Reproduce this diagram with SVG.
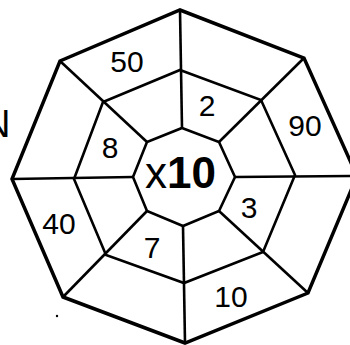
<svg xmlns="http://www.w3.org/2000/svg" width="350" height="345" viewBox="0 0 350 345">
<style>
.o{fill:none;stroke:#000;stroke-linejoin:miter}
.outer{stroke-width:3.5}
.in{stroke-width:2.6}
.n{font-family:"Liberation Sans",Arial,sans-serif;font-size:30px;text-anchor:middle;fill:#000}
</style>
<rect width="350" height="345" fill="#fff"/>
<g id="radials" class="o in">
<line x1="180" y1="10" x2="182" y2="128"/>
<line x1="304" y1="58" x2="219" y2="142"/>
<line x1="357" y1="176" x2="235" y2="177"/>
<line x1="308" y1="293" x2="219" y2="211"/>
<line x1="185" y1="343" x2="183" y2="226"/>
<line x1="63" y1="297" x2="147" y2="211"/>
<line x1="12" y1="179" x2="133" y2="177"/>
<line x1="60" y1="61" x2="147" y2="142"/>
</g>
<g id="middle" class="o in"><polygon points="180,70 261,100 295,175 263,252 184,283 106,255 74,179 103,102"/></g>
<g id="inner" class="o in"><polygon points="182,128 219,142 235,177 219,211 183,226 147,211 133,177 147,142"/></g>
<g id="outer" class="o outer"><polygon points="180,10 304,58 357,176 308,293 185,343 63,297 12,179 60,61"/></g>
<g id="labels">
<text class="n" x="127" y="72">50</text>
<text class="n" x="207" y="116" font-size="28">2</text>
<text class="n" x="305" y="136">90</text>
<text class="n" x="110" y="158">8</text>
<text class="n" x="59" y="234">40</text>
<text class="n" x="152" y="258">7</text>
<text class="n" x="249" y="218">3</text>
<text class="n" x="231" y="307">10</text>
<text x="145" y="188" font-family="Liberation Sans,Arial,sans-serif" font-size="44" fill="#000">x<tspan font-weight="bold">10</tspan></text>
<text x="-17" y="137" font-family="Liberation Sans,Arial,sans-serif" font-size="38" fill="#000">N</text>
</g>
<circle cx="57" cy="316" r="1.2" fill="#000"/>
</svg>
